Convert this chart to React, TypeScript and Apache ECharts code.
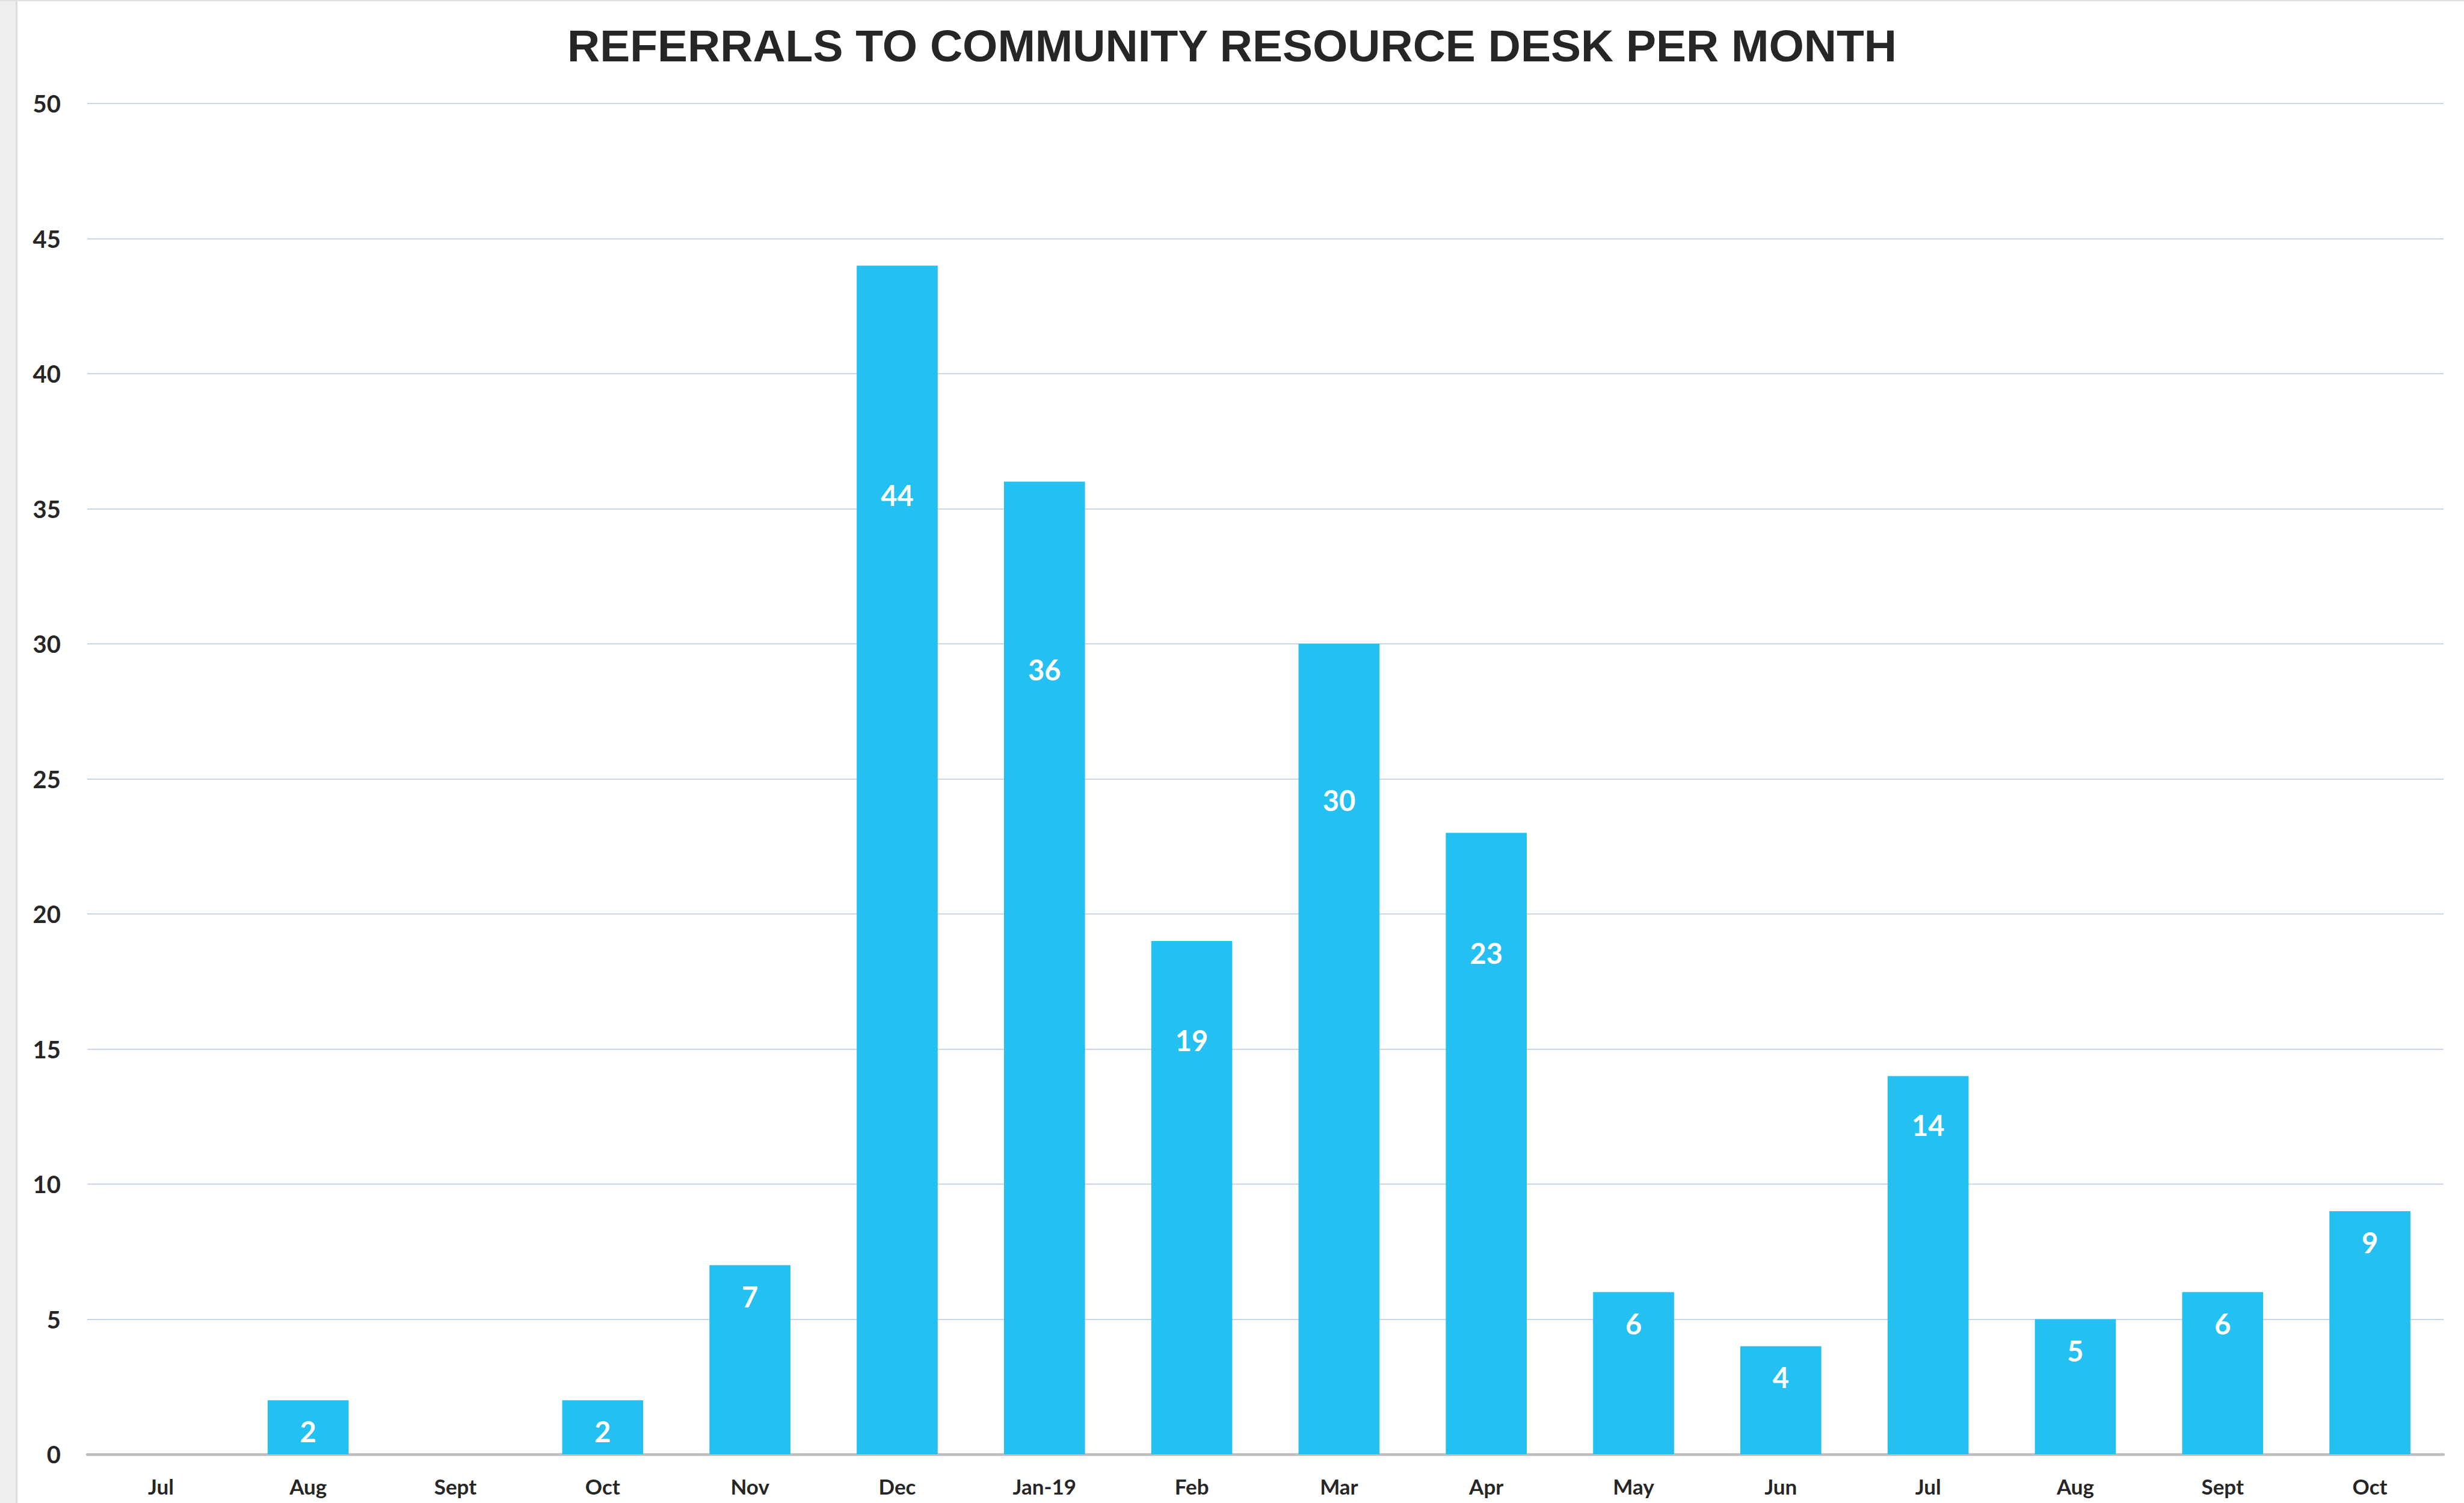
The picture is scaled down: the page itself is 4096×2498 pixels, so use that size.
import React, { useEffect, useRef } from "react";
import * as echarts from "echarts";

const TITLE = "REFERRALS TO COMMUNITY RESOURCE DESK PER MONTH";
const categories = ["Jul", "Aug", "Sept", "Oct", "Nov", "Dec", "Jan-19", "Feb", "Mar", "Apr", "May", "Jun", "Jul", "Aug", "Sept", "Oct"];
const referrals = [0, 2, 0, 2, 7, 44, 36, 19, 30, 23, 6, 4, 14, 5, 6, 9];
const yMin = 0;
const yMax = 50;
const yInterval = 5;

const W = 4096;
const H = 2498;
const GRID = { left: 145, right: 34, top: 172, bottom: 81 };
const LABEL_LH = 48;

export default function App() {
  const ref = useRef<HTMLDivElement>(null);
  useEffect(() => {
    if (!ref.current) return;
    const chart = echarts.init(ref.current, null, { renderer: "svg", width: W, height: H });
    const pxPerUnit = (H - GRID.top - GRID.bottom) / (yMax - yMin);
    const data = referrals.map((v) => {
      const h = v * pxPerUnit;
      const d = v >= 15 ? 0.193 * h : Math.max(52, 0.13 * h);
      return {
        value: v,
        label: { show: v > 0, distance: d - LABEL_LH / 2 },
      };
    });
    chart.setOption({
      animation: false,
      backgroundColor: "#ffffff",
      title: {
        text: TITLE,
        left: "center",
        top: 33,
        textStyle: {
          fontFamily: "Liberation Sans",
          fontWeight: "bold",
          fontSize: 75,
          color: "#262626",
        },
      },
      graphic: [
        { type: "rect", left: 0, top: 0, shape: { width: 26, height: H }, style: { fill: "#EFEFEF" } },
        { type: "rect", left: 26, top: 0, shape: { width: 3, height: H }, style: { fill: "#DCDCDC" } },
        { type: "rect", left: 0, top: 0, shape: { width: W, height: 2 }, style: { fill: "#E0E0E0" } },
      ],
      grid: { ...GRID },
      xAxis: {
        type: "category",
        data: categories,
        axisLine: { show: true, lineStyle: { color: "#BDBDBD", width: 4.5 } },
        axisTick: { show: false },
        axisLabel: {
          fontFamily: "Lato",
          fontWeight: "bold",
          fontSize: 35,
          lineHeight: 40,
          color: "#262626",
          margin: 33,
          interval: 0,
        },
      },
      yAxis: {
        type: "value",
        min: yMin,
        max: yMax,
        interval: yInterval,
        axisLine: { show: false },
        axisTick: { show: false },
        axisLabel: {
          fontFamily: "Lato",
          fontWeight: "bold",
          fontSize: 40,
          color: "#262626",
          margin: 44,
        },
        splitLine: { lineStyle: { color: "#CCD7E5", width: 2 } },
      },
      series: [
        {
          type: "bar",
          data,
          barWidth: "55%",
          itemStyle: { color: "#23C0F1" },
          label: {
            show: true,
            position: "insideTop",
            fontFamily: "Lato",
            fontWeight: "bold",
            fontSize: 47,
            lineHeight: LABEL_LH,
            color: "#ffffff",
          },
        },
      ],
    });
    return () => chart.dispose();
  }, []);
  return (
    <div
      ref={ref}
      style={{ position: "absolute", left: 0, top: 0, width: W, height: H }}
    />
  );
}
